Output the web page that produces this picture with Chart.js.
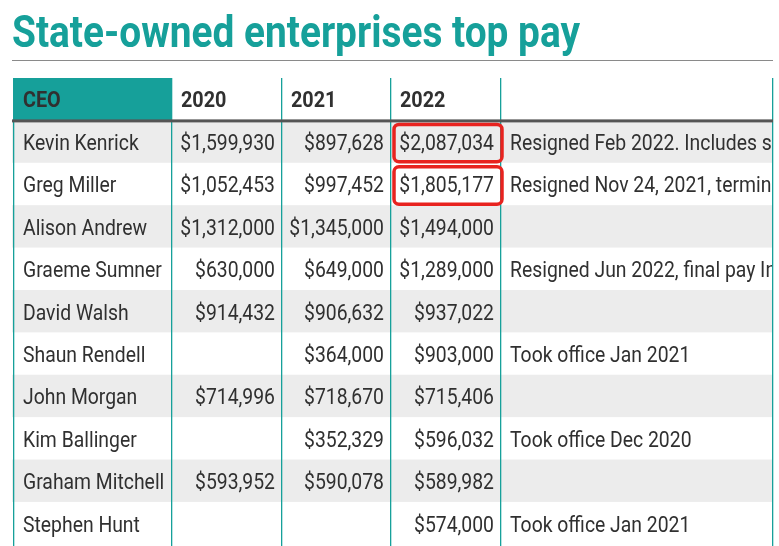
<!DOCTYPE html>
<html><head><meta charset="utf-8">
<script src="https://cdn.jsdelivr.net/npm/chart.js@4"></script>
<style>html,body{margin:0;padding:0;background:#fff;overflow:hidden}</style>
</head><body>
<canvas id="c" width="779" height="546"></canvas>
<script>
const titleText = "State-owned enterprises top pay";
const headers = ["CEO", "2020", "2021", "2022", ""];
const ceos = ["Kevin Kenrick", "Greg Miller", "Alison Andrew", "Graeme Sumner", "David Walsh",
  "Shaun Rendell", "John Morgan", "Kim Ballinger", "Graham Mitchell", "Stephen Hunt"];
const pay2020 = [1599930, 1052453, 1312000, 630000, 914432, null, 714996, null, 593952, null];
const pay2021 = [897628, 997452, 1345000, 649000, 906632, 364000, 718670, 352329, 590078, null];
const pay2022 = [2087034, 1805177, 1494000, 1289000, 937022, 903000, 715406, 596032, 589982, 574000];
const notes = ["Resigned Feb 2022. Includes severance payment", "Resigned Nov 24, 2021, termination payment",
  "", "Resigned Jun 2022, final pay Includes leave", "", "Took office Jan 2021", "",
  "Took office Dec 2020", "", "Took office Jan 2021"];
const highlightRows = [0, 1];      // 2022 cells boxed in red
const columnWidths = [158, 110, 109, 110, 272];

const TEAL = "#16a09a", TEXT = "#303030";
const edges = columnWidths.reduce((a, w) => { a.push(a[a.length - 1] + w); return a; }, [0]);
const fmt = v => v == null ? "" : "$" + v.toLocaleString("en-US");
const cells = ceos.map((c, i) => [c, fmt(pay2020[i]), fmt(pay2021[i]), fmt(pay2022[i]), notes[i]]);

function txt(ctx, s, x, y, align, font, sx, color) {
  ctx.save();
  ctx.font = font; ctx.fillStyle = color; ctx.textBaseline = "middle"; ctx.textAlign = align;
  ctx.translate(x, y); ctx.scale(sx, 1); ctx.fillText(s, 0, 0);
  ctx.restore();
}

const tablePlugin = {
  id: "table",
  afterDraw(chart) {
    const ctx = chart.ctx, xs = chart.scales.x, ys = chart.scales.y, area = chart.chartArea;
    const X = v => xs.getPixelForValue(v), Y = v => ys.getPixelForValue(v);
    // title
    ctx.save();
    ctx.font = "bold 45px Roboto";
    const tw = ctx.measureText(titleText).width;
    ctx.fillStyle = TEAL; ctx.textBaseline = "alphabetic";
    ctx.translate(12, 47); ctx.scale(568 / tw, 1); ctx.fillText(titleText, 0, 0); ctx.restore();
    ctx.fillStyle = "#8a8a8a"; ctx.fillRect(12, 60, area.right - 12, 1);
    // stripes
    ctx.fillStyle = "#ececec";
    cells.forEach((r, i) => { if (i % 2 === 0) ctx.fillRect(12, Y(i), X(edges[edges.length - 1]) - 12, Y(i + 1) - Y(i)); });
    // header
    ctx.fillStyle = TEAL; ctx.fillRect(X(edges[0]), Y(-1), X(edges[1]) - X(edges[0]), Y(0) - Y(-1));
    headers.forEach((h, j) => txt(ctx, h, X(edges[j]) + 9, (Y(-1) + Y(0)) / 2 + 2, "left", "bold 22px Roboto", 0.9, TEXT));
    // cells
    const font = "22px Roboto";
    cells.forEach((r, i) => {
      const cy = (Y(i) + Y(i + 1)) / 2 + 3;
      r.forEach((s, j) => {
        if (!s) return;
        if (j === 0) txt(ctx, s, X(edges[0]) + 9, cy, "left", font, 0.88, TEXT);
        else if (j === 4) {
          ctx.save(); ctx.beginPath(); ctx.rect(X(edges[4]), Y(i), X(edges[5]) - X(edges[4]) - 1, Y(i + 1) - Y(i)); ctx.clip();
          txt(ctx, s, X(edges[4]) + 9, cy, "left", font, 0.88, TEXT); ctx.restore();
        } else txt(ctx, s, X(edges[j + 1]) - 7, cy, "right", font, 0.88, TEXT);
      });
    });
    // column lines
    ctx.fillStyle = TEAL;
    edges.forEach(e => ctx.fillRect(Math.round(X(e)) - 1, Y(-1), 1.3, area.bottom - Y(-1)));
    // header rule
    ctx.fillStyle = "#555555"; ctx.fillRect(12, Y(0) - 1, X(edges[5]) - 12, 3);
    // red boxes
    ctx.strokeStyle = "#e8231f"; ctx.lineWidth = 3.5;
    highlightRows.forEach(i => {
      const x0 = X(edges[3]) + 3, x1 = X(edges[4]) + 1, y0 = Y(i) + 4, y1 = Y(i + 1) - 1;
      ctx.beginPath(); ctx.roundRect(x0, y0, x1 - x0, y1 - y0, 5); ctx.stroke();
    });
  }
};

new Chart(document.getElementById("c"), {
  type: "scatter",
  data: { datasets: [{ data: [], pointRadius: 0 }] },
  options: {
    responsive: false, animation: false, devicePixelRatio: 1,
    layout: { padding: { left: 14, right: 6, top: 78, bottom: 0 } },
    plugins: { legend: { display: false }, tooltip: { enabled: false } },
    scales: {
      x: { type: "linear", display: false, min: 0, max: edges[edges.length - 1] },
      y: { type: "linear", display: false, min: -1, max: 10.04, reverse: true }
    }
  },
  plugins: [tablePlugin]
});
</script>
</body></html>
